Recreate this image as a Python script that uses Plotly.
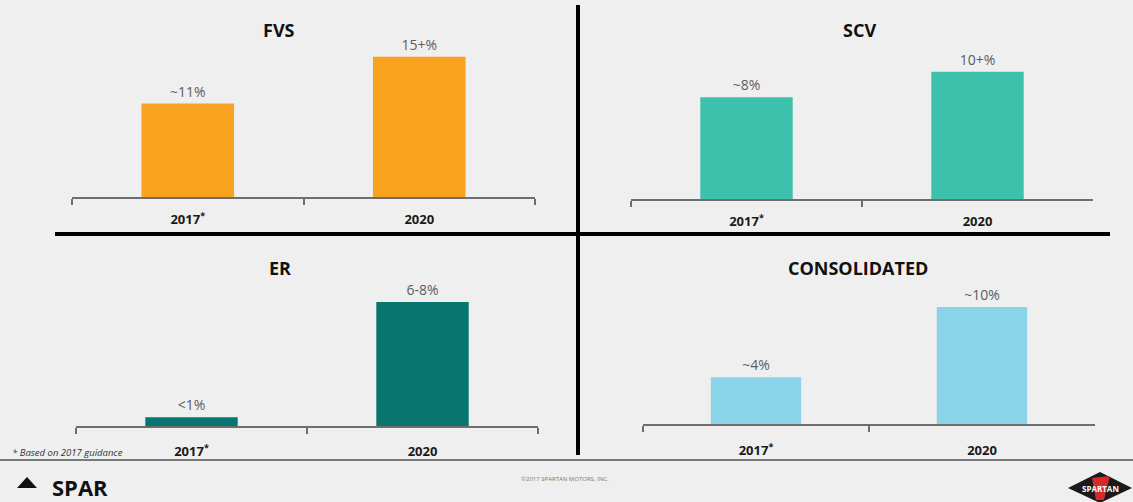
import plotly.graph_objects as go

W, H = 1133, 502

# ---------------- data ----------------
categories = ["2017<sup>*</sup>", "2020"]
panel_titles = ["FVS", "SCV", "ER", "CONSOLIDATED"]

fvs_values = [10, 15]
fvs_labels = ["~11%", "15+%"]
scv_values = [8, 10]
scv_labels = ["~8%", "10+%"]
er_values = [0.5, 7]
er_labels = ["<1%", "6-8%"]
cons_values = [4, 10]
cons_labels = ["~4%", "~10%"]

footnote = "* Based on 2017 guidance"
copyright_text = "©2017 SPARTAN MOTORS, INC."

# ---------------- style / layout ----------------
colors = ["#F8A21F", "#3EC1AC", "#08766F", "#8AD4EA"]
# x0, x1, baseline px, top px, y max, title x, title y, tick label standoff
geom = [
    (72, 535, 197, 40, 16.8, 279, 30, 10),
    (631, 1093, 199, 40, 12.5, 859, 30, 10),
    (76, 538, 426, 280, 8.24, 280, 268, 13),
    (643, 1095, 424, 280, 12.3, 858, 268, 14),
]
series = [(fvs_values, fvs_labels), (scv_values, scv_labels),
          (er_values, er_labels), (cons_values, cons_labels)]

FONT = "Open Sans"
fig = go.Figure()
layout = dict(
    width=W, height=H, margin=dict(l=0, r=0, t=0, b=0),
    paper_bgcolor="#efefef", plot_bgcolor="rgba(0,0,0,0)",
    showlegend=False, hovermode=False, font=dict(family=FONT),
)

annotations = []
for i, ((vals, labs), g, col, title) in enumerate(zip(series, geom, colors, panel_titles)):
    x0, x1, base, top, ymax, tx, ty, stand = g
    xs = "x" if i == 0 else f"x{i+1}"
    ys = "y" if i == 0 else f"y{i+1}"
    xa = "xaxis" if i == 0 else f"xaxis{i+1}"
    ya = "yaxis" if i == 0 else f"yaxis{i+1}"
    fig.add_trace(go.Bar(
        x=categories, y=vals, text=labs, textposition="outside",
        textfont=dict(color="#5c5c5c", size=14, family=FONT),
        marker=dict(color=col, line=dict(width=0)), width=0.4,
        cliponaxis=False, xaxis=xs, yaxis=ys,
    ))
    layout[xa] = dict(
        domain=[x0 / W, x1 / W], anchor=ys, type="category",
        range=[-0.5, 1.5], showline=True, linecolor="#6e6e6e", linewidth=1.5,
        ticks="outside", tickson="boundaries", ticklen=6, tickwidth=1.5,
        tickcolor="#6e6e6e", showgrid=False, zeroline=False,
        tickfont=dict(size=13, color="#1a1a1a", family=FONT, weight="bold"),
        ticklabelstandoff=stand, fixedrange=True,
    )
    layout[ya] = dict(
        domain=[(H - base) / H, (H - top) / H], anchor=xs,
        range=[0, ymax], visible=False, fixedrange=True,
    )
    annotations.append(dict(
        text=title, x=tx / W, y=(H - ty) / H, xref="paper", yref="paper",
        xanchor="center", yanchor="middle", showarrow=False,
        font=dict(size=18, color="#111111", family=FONT, weight="bold"),
    ))

# footer texts
annotations += [
    dict(text=footnote, x=10 / W, y=(H - 452) / H, xref="paper", yref="paper",
         xanchor="left", yanchor="middle", showarrow=False,
         font=dict(size=9.5, color="#333333", family=FONT, style="italic")),
    dict(text="SPAR", x=50 / W, y=(H - 487) / H, xref="paper", yref="paper",
         xanchor="left", yanchor="middle", showarrow=False,
         font=dict(size=22, color="#111111", family=FONT, weight="bold")),
    dict(text=copyright_text, x=565 / W, y=(H - 479) / H, xref="paper", yref="paper",
         xanchor="center", yanchor="middle", showarrow=False,
         font=dict(size=6, color="#777777", family=FONT)),
    dict(text="SPARTAN", x=1100 / W, y=(H - 488) / H, xref="paper", yref="paper",
         xanchor="center", yanchor="middle", showarrow=False,
         font=dict(size=8, color="#ffffff", family=FONT, weight="bold")),
]
layout["annotations"] = annotations

def px(x):
    return x / W

def py(y):
    return (H - y) / H

layout["shapes"] = [
    # quadrant dividers
    dict(type="line", xref="paper", yref="paper", x0=px(578), x1=px(578),
         y0=py(5), y1=py(455), line=dict(color="#000000", width=4)),
    dict(type="line", xref="paper", yref="paper", x0=px(55), x1=px(1110),
         y0=py(234), y1=py(234), line=dict(color="#000000", width=4)),
    # footer separator
    dict(type="line", xref="paper", yref="paper", x0=0, x1=1,
         y0=py(460), y1=py(460), line=dict(color="#7a7a7a", width=2)),
    # SPAR logo triangle
    dict(type="path", xref="paper", yref="paper",
         path=f"M {px(17)},{py(488)} L {px(27)},{py(477)} L {px(37)},{py(488)} Z",
         fillcolor="#111111", line=dict(width=0)),
    # logo diamond
    dict(type="path", xref="paper", yref="paper",
         path=f"M {px(1068)},{py(488)} L {px(1100)},{py(472)} L {px(1132)},{py(488)} L {px(1100)},{py(503)} Z",
         fillcolor="#1a1a1a", line=dict(width=0), layer="below"),
    dict(type="path", xref="paper", yref="paper",
         path=f"M {px(1092)},{py(478)} L {px(1110)},{py(476)} L {px(1104)},{py(500)} L {px(1096)},{py(500)} Z",
         fillcolor="#d42a2a", line=dict(width=0), layer="below"),
]

fig.update_layout(**layout)
fig.write_html("out.html")
